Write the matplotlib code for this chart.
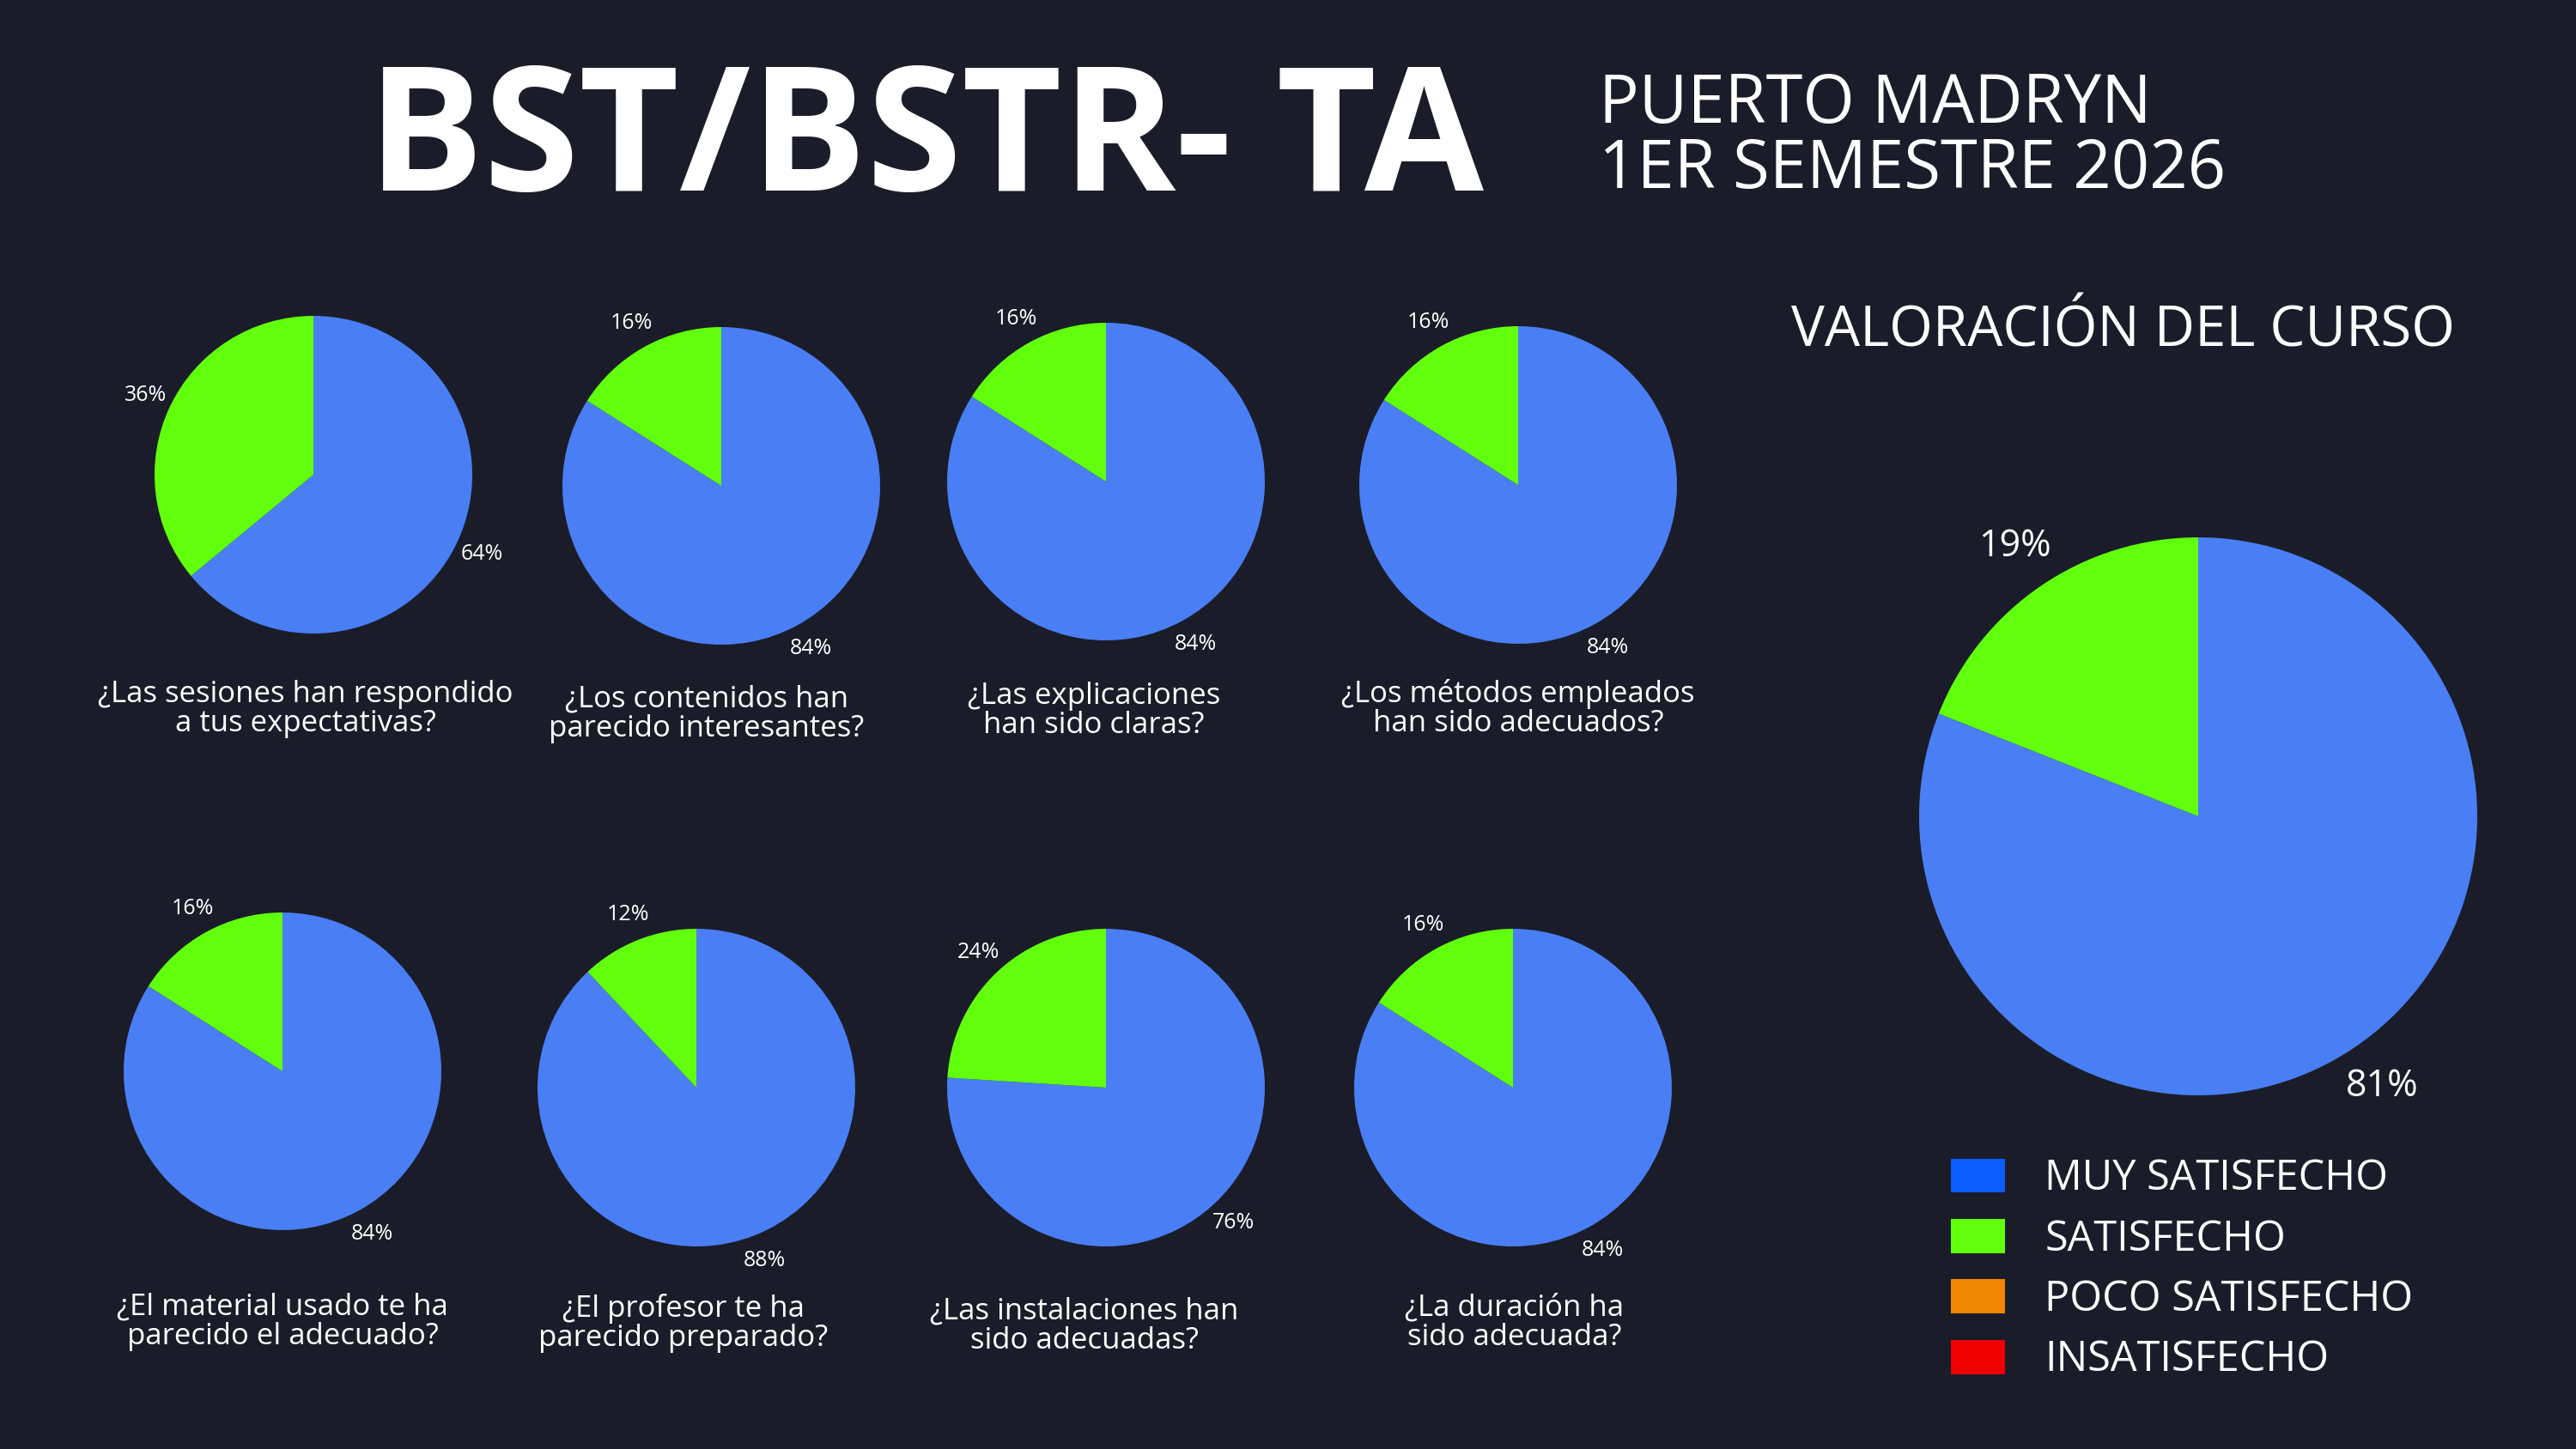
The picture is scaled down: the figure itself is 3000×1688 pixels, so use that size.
import matplotlib.pyplot as plt
from matplotlib.patches import Patch

W, H = 3000, 1688
BG = '#1a1d29'
plt.rcParams['font.family'] = ['Open Sans', 'DejaVu Sans']

# datos de la encuesta (% muy satisfecho / satisfecho)
preguntas = [
    '¿Las sesiones han respondido\na tus expectativas?',
    '¿Los contenidos han\nparecido interesantes?',
    '¿Las explicaciones\nhan sido claras?',
    '¿Los métodos empleados\nhan sido adecuados?',
    '¿El material usado te ha\nparecido el adecuado?',
    '¿El profesor te ha\nparecido preparado?',
    '¿Las instalaciones han\nsido adecuadas?',
    '¿La duración ha\nsido adecuada?',
]
muy_satisfecho = [64, 84, 84, 84, 84, 88, 76, 84]
satisfecho = [36, 16, 16, 16, 16, 12, 24, 16]

total_muy = 81
total_sat = 19

categorias = ['MUY SATISFECHO', 'SATISFECHO', 'POCO SATISFECHO', 'INSATISFECHO']
colores_leyenda = ['#0a5cff', '#62ff0a', '#f28705', '#ee0000']
colores_pie = ['#4a7ef5', '#62ff0d']

# posiciones en pixeles (centro x, centro y, radio) y pie de texto
centros = [(365, 553), (840, 566), (1288, 561), (1768, 565),
           (329, 1248), (811, 1267), (1288, 1267), (1762, 1267)]
radio = 185
textos = [(356, 826), (823, 832), (1274, 828), (1768, 826),
          (329, 1540), (796, 1541), (1263, 1545), (1764, 1541)]


def fx(x):
    return x / W


def fy(y):
    return 1 - y / H


def pie_axes(fig, cx, cy, r):
    ax = fig.add_axes([fx(cx - r), fy(cy + r), 2 * r / W, 2 * r / H])
    ax.set_facecolor(BG)
    ax.axis('off')
    return ax


fig = plt.figure(figsize=(W / 100, H / 100), dpi=100, facecolor=BG)

for i in range(len(preguntas)):
    cx, cy = centros[i]
    ax = pie_axes(fig, cx, cy, radio)
    ax.pie([muy_satisfecho[i], satisfecho[i]], colors=colores_pie,
           startangle=90, counterclock=False, radius=1,
           autopct='%.0f%%', pctdistance=1.17,
           textprops={'color': 'white', 'fontsize': 18})
    ax.set_xlim(-1, 1)
    ax.set_ylim(-1, 1)
    tx, ty = textos[i]
    fig.text(fx(tx), fy(ty), preguntas[i], ha='center', va='center',
             color='white', fontsize=25, linespacing=1.0)

# grafico general
ax = pie_axes(fig, 2560, 951, 325)
ax.pie([total_muy, total_sat], colors=colores_pie, startangle=90,
       counterclock=False, radius=1, autopct='%.0f%%', pctdistance=1.17,
       textprops={'color': 'white', 'fontsize': 31})
ax.set_xlim(-1, 1)
ax.set_ylim(-1, 1)

# titulos
fig.text(fx(1078), fy(170), 'BST/BSTR- TA', ha='center', va='center',
         color='white', fontsize=145, fontweight='bold')
fig.text(fx(1862), fy(122), 'PUERTO MADRYN', ha='left', va='center',
         color='white', fontsize=56)
fig.text(fx(1862), fy(198), '1ER SEMESTRE 2026', ha='left', va='center',
         color='white', fontsize=56)
fig.text(fx(2473), fy(386), 'VALORACIÓN DEL CURSO', ha='center', va='center',
         color='white', fontsize=47)

# leyenda
handles = [Patch(facecolor=c, edgecolor='none') for c in colores_leyenda]
fig.legend(handles, categorias, loc='upper left',
           bbox_to_anchor=(fx(2228), fy(1305)), bbox_transform=fig.transFigure,
           frameon=False, fontsize=35, labelcolor='white',
           handlelength=1.3, handleheight=0.88, handletextpad=0.95,
           labelspacing=0.43)

fig.savefig('out.png', dpi=100, facecolor=BG)
